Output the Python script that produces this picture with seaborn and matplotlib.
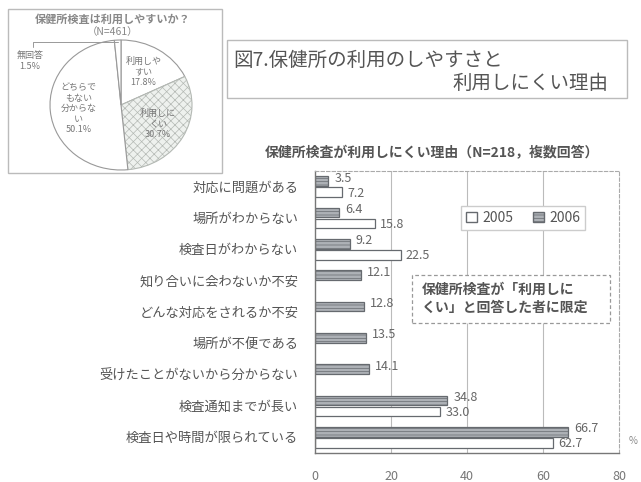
import matplotlib
matplotlib.use("Agg")
import matplotlib.pyplot as plt
from matplotlib.patches import Patch, Rectangle
import numpy as np
import pandas as pd
import seaborn as sns

sns.set_style("white")
plt.rcParams["font.family"] = ["Noto Sans CJK JP", "DejaVu Sans"]
plt.rcParams["hatch.linewidth"] = 0.5

# ---- data -------------------------------------------------------------
reasons = [
    "対応に問題がある",
    "場所がわからない",
    "検査日がわからない",
    "知り合いに会わないか不安",
    "どんな対応をされるか不安",
    "場所が不便である",
    "受けたことがないから分からない",
    "検査通知までが長い",
    "検査日や時間が限られている",
]
v2005 = [7.2, 15.8, 22.5, np.nan, np.nan, np.nan, np.nan, 33.0, 62.7]
v2006 = [3.5, 6.4, 9.2, 12.1, 12.8, 13.5, 14.1, 34.8, 66.7]
years = ["2005", "2006"]
x_ticks = [0, 20, 40, 60, 80]

pie_names = ["利用しや\nすい", "利用しに\nくい", "どちらで\nもない\n分からな\nい", "無回答"]
pie_values = [17.8, 30.7, 50.1, 1.5]

# ---- figure helpers (pixel -> figure fraction) -------------------------
W, H = 641, 482
fig = plt.figure(figsize=(W / 100, H / 100), dpi=100)
fig.patch.set_facecolor("white")


def fx(x):
    return x / W


def fy(y):
    return 1 - y / H


def frame(x0, y0, x1, y1, **kw):
    r = Rectangle((fx(x0), fy(y1)), (x1 - x0) / W, (y1 - y0) / H,
                  transform=fig.transFigure, **kw)
    fig.add_artist(r)
    return r


GRAY_BAR = "#adb1b6"
EDGE = "#666a6f"
TXT = "#555555"

# ---- bar chart --------------------------------------------------------
df = pd.DataFrame({
    "理由": reasons * 2,
    "年": [years[0]] * len(reasons) + [years[1]] * len(reasons),
    "割合": v2005 + v2006,
})

ax = fig.add_axes([fx(315), fy(453), (619 - 315) / W, (453 - 171) / H])
hue_order = ["2006", "2005"]
sns.barplot(
    data=df, x="割合", y="理由", hue="年", hue_order=hue_order, order=reasons,
    orient="h", palette={"2006": GRAY_BAR, "2005": "white"}, saturation=1,
    width=0.7, gap=0.1, edgecolor=EDGE, linewidth=0.9, legend=False, ax=ax,
)

for cont, yr in zip(ax.containers, hue_order):
    for bar in cont:
        w = bar.get_width()
        if np.isnan(w):
            continue
        if yr == "2006":
            bar.set_hatch("-----")
            off = (6, 3)
        else:
            off = (5, -1)
        yc = bar.get_y() + bar.get_height() / 2
        ax.annotate(f"{w:.1f}", (w, yc), xytext=off, textcoords="offset pixels",
                    ha="left", va="center", fontsize=9, color="#666666")

ax.set_xlim(0, 80)
ax.set_ylim(len(reasons) - 0.5, -0.5)
ax.set_xticks(x_ticks)
ax.set_xlabel("")
ax.set_ylabel("")
ax.set_yticks(np.arange(-0.5, len(reasons), 1), minor=True)
ax.tick_params(axis="y", which="major", length=0, pad=12, labelsize=9.5,
               labelcolor=TXT)
ax.tick_params(axis="y", which="minor", length=4, width=0.8,
               direction="inout", color="#777777")
ax.tick_params(axis="x", length=4, width=0.8, direction="inout",
               color="#777777", labelsize=9, labelcolor="#777777", pad=10)

ax.grid(axis="x", color="#bbbbbb", linewidth=0.8)
ax.set_axisbelow(True)
gl = ax.get_xgridlines()
gl[0].set_visible(False)
gl[-1].set_visible(False)

for s in ("top", "right"):
    ax.spines[s].set_linestyle((0, (3, 2)))
    ax.spines[s].set_color("#aaaaaa")
    ax.spines[s].set_linewidth(0.8)
for s in ("left", "bottom"):
    ax.spines[s].set_color("#777777")
    ax.spines[s].set_linewidth(1.0)

handles = [
    Patch(facecolor="white", edgecolor=EDGE, label=years[0]),
    Patch(facecolor=GRAY_BAR, edgecolor=EDGE, hatch="-----", label=years[1]),
]
fig.legend(handles=handles, loc="upper left", bbox_to_anchor=(fx(454), fy(199)),
           ncol=2, frameon=True, fancybox=False, edgecolor="#cccccc",
           framealpha=1, fontsize=10, handlelength=0.8, handleheight=0.8,
           handletextpad=0.4, columnspacing=1.4, borderpad=0.35,
           labelcolor=TXT)

# note box inside the plot area
frame(412, 275, 610, 323, facecolor="white", edgecolor="#999999",
      linestyle=(0, (3, 2)), linewidth=0.9)
fig.text(fx(422), fy(299), "保健所検査が「利用しに\nくい」と回答した者に限定",
         ha="left", va="center", fontsize=10, fontweight="bold", color=TXT,
         linespacing=1.35)

fig.text(fx(432), fy(153), "保健所検査が利用しにくい理由（N=218，複数回答）",
         ha="center", va="center", fontsize=10, fontweight="bold", color=TXT)
fig.text(fx(633), fy(441), "%", ha="center", va="center", fontsize=7,
         color="#888888")

# ---- figure title box ------------------------------------------------
frame(227, 40, 627, 98, fill=False, edgecolor="#bbbbbb", linewidth=1)
fig.text(fx(233), fy(60), "図7.保健所の利用のしやすさと", ha="left", va="center",
         fontsize=14, color=TXT)
fig.text(fx(608), fy(83), "利用しにくい理由", ha="right", va="center",
         fontsize=14, color=TXT)

# ---- pie chart -------------------------------------------------------
frame(8, 9, 222, 173, fill=False, edgecolor="#bbbbbb", linewidth=1)
fig.text(fx(113), fy(19), "保健所検査は利用しやすいか？", ha="center", va="center",
         fontsize=8, fontweight="bold", color="#888888")
fig.text(fx(113), fy(32), "（N=461）", ha="center", va="center",
         fontsize=7.5, color="#888888")

pax = fig.add_axes([fx(50), fy(170), 142 / W, 130 / H])
labels = [f"{n}\n{v}%" for n, v in zip(pie_names, pie_values)]
labels[-1] = ""
wedges, texts = pax.pie(
    pie_values, labels=labels, startangle=90, counterclock=False,
    colors=["white", "#eef1ee", "white", "white"],
    wedgeprops=dict(edgecolor="#999999", linewidth=0.8),
    labeldistance=0.6, textprops=dict(fontsize=6.5, color="#777777"),
)
for t in texts:
    t.set_horizontalalignment("center")
    t.set_multialignment("center")
wedges[1].set_hatch("xxxx")
wedges[1].set_edgecolor("#b4b9b4")
pax.set_aspect("auto")
pax.set_xlim(-1, 1)
pax.set_ylim(-1, 1)

# small slice: label outside with a leader line
w = wedges[-1]
tm = np.deg2rad((w.theta1 + w.theta2) / 2)
xm, ym = np.cos(tm), np.sin(tm)
pax.plot([xm, -1.24, -1.24], [ym - 0.03, ym - 0.03, 0.9], color="#999999",
         linewidth=0.7, clip_on=False)
pax.text(-1.28, 0.68, f"{pie_names[-1]}\n{pie_values[-1]}%", ha="center",
         va="center", fontsize=6.5, color="#777777", multialignment="center")

fig.savefig("out.png", dpi=100, facecolor="white")
